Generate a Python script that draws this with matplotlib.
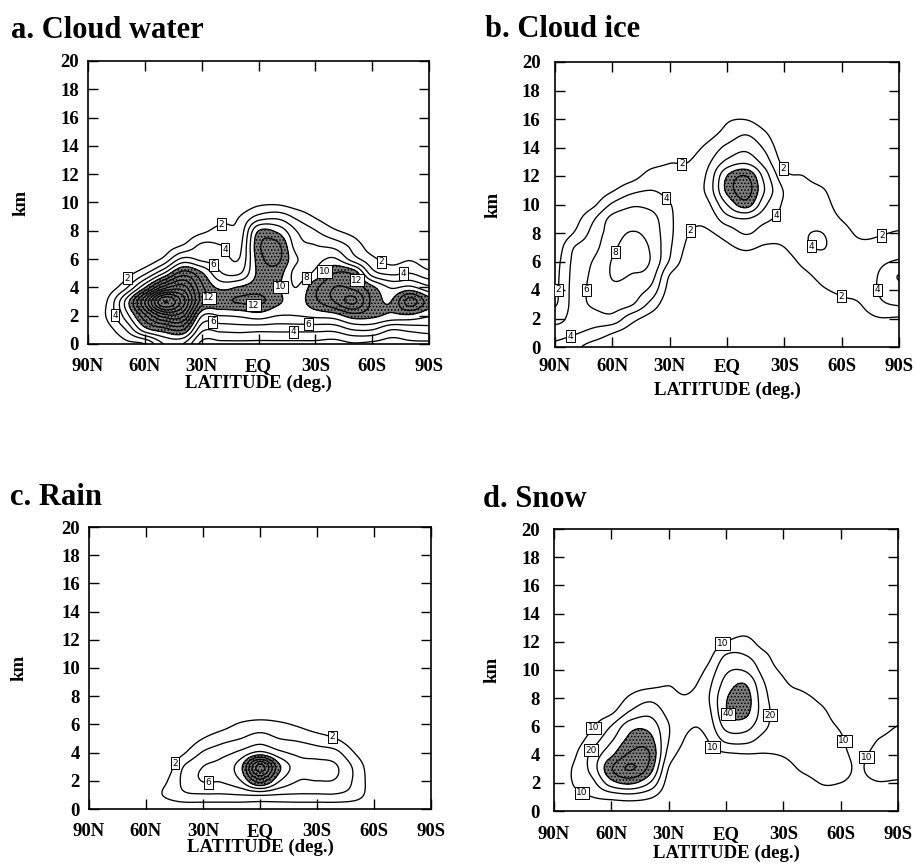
import numpy as np
import matplotlib
matplotlib.use("Agg")
import matplotlib.pyplot as plt

plt.rcParams['font.family'] = ['Liberation Serif', 'DejaVu Serif']
plt.rcParams['font.weight'] = 'bold'
plt.rcParams['axes.labelweight'] = 'bold'
plt.rcParams['hatch.color'] = 'black'
plt.rcParams['hatch.linewidth'] = 0.7

# ---------------- data ----------------
latitudes = [90, 80, 70, 60, 50, 40, 30, 20, 10, 0,
             -10, -20, -30, -40, -50, -60, -70, -80, -90]
heights_km = list(range(0, 21))
lat_tick_values = [90, 60, 30, 0, -30, -60, -90]
lat_tick_labels = ['90N', '60N', '30N', 'EQ', '30S', '60S', '90S']
km_ticks = [0, 2, 4, 6, 8, 10, 12, 14, 16, 18, 20]

# each inner list: one latitude column, values at 0, 1, 2, ... km
cloud_water = [
    [0, 0.3, 0.5, 0.4, 0.2],
    [0.3, 1.2, 2.2, 2.0, 0.8, 0.2],
    [1.5, 4, 7, 8.5, 3.6, 1.2, 0.2],
    [2, 9, 13.5, 18, 9.8, 3.6, 0.5],
    [6, 11, 19, 28, 17, 8, 2.5, 0.8],
    [6, 12, 18.5, 23, 19, 13, 6.5, 2, 0.5],
    [1.5, 4.5, 8.2, 13, 12.5, 10.3, 5.5, 4.3, 1.5, 0.3],
    [1.5, 4.5, 8, 11.8, 9.5, 6.2, 5, 4, 2.7, 1.2, 0.2],
    [1.5, 4.7, 8.3, 12.2, 10.2, 5.8, 4.1, 3.4, 2.7, 2.0, 0.4],
    [1.5, 4.5, 9, 12.5, 11, 10.5, 11, 11.5, 10, 4.6, 1.4],
    [1.5, 4.5, 8, 10.5, 10.3, 11, 12.5, 12.5, 9.5, 5.3, 1.5],
    [1.5, 4.5, 8, 9, 8, 7.3, 8.2, 7, 6, 3.5, 0.8],
    [1.5, 4.5, 8.5, 11.5, 11.5, 8.5, 7.3, 6, 4.1, 1.8, 0.3],
    [1.2, 4.5, 9, 14, 14, 12, 8.3, 5.2, 2.3, 0.5],
    [1.8, 6, 11, 16.5, 13.5, 11.5, 5, 3.2, 1.2],
    [1.5, 6, 10.5, 11.5, 10.5, 5, 2.5, 0.8],
    [1, 4, 9.5, 10, 7.8, 3.6, 1.2, 0.3],
    [1.5, 4.5, 9.5, 15, 8.5, 4, 1.8, 0.3],
    [1.5, 5, 8.2, 11, 6.5, 2.6, 0.8],
]

cloud_ice = [
    [3.5, 4.6, 3.3, 1.8, 1.6, 1.5, 1.3, 0.8, 0.3],
    [2.5, 4.2, 4.6, 4.8, 4.8, 4.7, 4.5, 4.0, 2.1, 1.2, 0.5],
    [1.2, 3.4, 5.0, 6.3, 6.5, 6.4, 6.1, 5.3, 4.7, 3.7, 1.6, 0.5],
    [0.5, 2.1, 5.3, 6.8, 7.6, 8.1, 8.1, 7.6, 7.0, 6.6, 4.3, 1.8, 0.5],
    [0.2, 1.0, 2.8, 6.2, 7.0, 7.9, 8.5, 8.6, 8.1, 7.0, 5.7, 3.4, 1.2, 0.2],
    [0, 0.3, 1.2, 3.4, 5.5, 7.0, 7.9, 7.8, 7.3, 6.8, 5.4, 4.0, 2.7, 1.3, 0.3],
    [0, 0, 0.2, 0.6, 1.2, 1.9, 3.8, 4.3, 4.5, 4.4, 4.1, 3.4, 2.6, 1.9, 0.8, 0.2],
    [0, 0, 0, 0, 0, 0.4, 0.9, 1.5, 2.0, 2.6, 2.9, 3.0, 2.8, 2.0, 1.2, 0.4],
    [0, 0, 0, 0, 0, 0, 0.6, 1.2, 1.8, 2.6, 3.6, 4.6, 4.4, 3.6, 2.5, 1.2, 0.3],
    [0, 0, 0, 0, 0, 0.8, 1.2, 1.7, 2.8, 5.2, 8.0, 10.5, 10.0, 6.5, 4.5, 2.7, 1.7, 0.4],
    [0, 0, 0, 0, 0, 0.6, 1.3, 2.3, 4.2, 6.0, 11.0, 13.0, 12.0, 7.5, 5.5, 3.8, 1.9, 0.3],
    [0, 0, 0, 0, 0, 0.3, 1.0, 1.8, 3.0, 4.5, 6.3, 7.8, 7.0, 5.0, 3.6, 2.2, 0.8],
    [0, 0, 0, 0, 0, 0.3, 1.0, 2.0, 2.7, 3.4, 3.7, 3.8, 2.6, 1.3, 0.5],
    [0, 0, 0, 0.3, 0.8, 1.5, 2.5, 3.6, 3.8, 3.3, 3.0, 2.7, 2.0, 0.8],
    [0, 0, 0.3, 1.0, 1.8, 2.5, 3.2, 4.1, 4.0, 3.2, 2.8, 2.2, 1.0, 0.3],
    [0, 0.5, 0.9, 1.6, 2.3, 2.8, 3.0, 3.0, 2.8, 1.9, 1.0, 0.4],
    [0.5, 0.8, 1.3, 2.0, 2.6, 2.8, 2.8, 2.5, 1.6, 0.8, 0.2],
    [0.5, 1.0, 1.9, 3.6, 4.2, 4.2, 3.6, 2.7, 1.8, 0.8, 0.2],
    [0.5, 0.8, 1.8, 4.2, 5.2, 6.1, 4.2, 3.2, 2.2, 1.0, 0.3],
]

rain = [
    [0], [0], [0],
    [0.2, 0.8, 0.6, 0.2],
    [0.5, 2.2, 1.7, 0.6],
    [0.6, 3.6, 4.5, 4.1, 1.8, 0.5],
    [0.6, 3.8, 6.1, 6.0, 4.2, 2.0, 0.5],
    [0.6, 3.8, 6.2, 6.8, 5.3, 3.2, 1.2],
    [0.6, 4.0, 8.0, 9.5, 6.5, 4.0, 2.3, 0.3],
    [0.7, 4.2, 13, 19, 8.5, 5.0, 2.8, 0.5],
    [0.6, 3.9, 8.2, 10.5, 6.5, 4.0, 2.4, 0.3],
    [0.6, 3.8, 6.0, 7.0, 5.5, 3.6, 1.7],
    [0.6, 3.8, 6.0, 6.8, 5.0, 2.9, 0.8],
    [0.6, 3.8, 5.8, 6.2, 4.5, 2.0, 0.4],
    [0.5, 3.0, 3.6, 3.5, 1.9, 0.5],
    [0.2, 0.8, 0.8, 0.5],
    [0], [0], [0],
]

snow = [
    [3, 5, 6, 6, 4.5, 3, 1.5, 0.5],
    [5, 8, 10.2, 10.6, 8, 5, 2.5, 1],
    [6, 10, 17, 24, 23, 15, 9, 5, 2, 0.5],
    [3, 13, 36, 49, 38, 29, 20.5, 8.5, 3, 0.5],
    [2, 15, 42, 61, 52, 43.5, 36.5, 21.5, 12, 5, 1],
    [3, 11.5, 30, 46, 50, 44, 36.5, 27, 17.5, 7, 1.5],
    [2, 4, 6, 9.5, 16, 20, 20.5, 17, 13, 9.5, 4, 1],
    [1, 2, 3, 4, 6, 8.5, 11, 12, 11, 7, 3, 1],
    [1, 2, 3.5, 5, 7, 9.5, 13, 16, 18, 16, 11.5, 6, 2, 0.5],
    [1, 2, 3.5, 5.5, 8.5, 22, 33, 39, 39, 34, 28, 21, 10, 2],
    [1, 2, 4, 6.5, 9.5, 23, 34, 43, 45, 40, 29, 20.5, 13.5, 5],
    [1, 2, 4, 6.5, 9.5, 16, 22, 24, 23, 20.5, 16, 12.5, 5, 0.5],
    [1, 2, 4, 7, 10.5, 13, 14, 14, 13, 11.5, 8, 3, 0.5],
    [1.5, 3.5, 7, 11, 13, 13.5, 13.5, 13, 12, 7.5, 3, 0.5],
    [3, 7, 10.3, 12.5, 13, 13, 12.5, 11.5, 8, 3, 0.5],
    [4, 7, 10, 11.5, 11.5, 11, 9, 5.5, 2.5, 0.5],
    [3, 5, 8.5, 9.5, 8.5, 5, 3, 1.5, 0.5],
    [4, 7, 9.7, 13, 13, 10.5, 6, 3, 1],
    [5, 8, 9.3, 13, 14, 13, 10.2, 5, 2],
]

# contour labels: (latitude, km, level)
cloud_water_labels = [(69, 4.6, 2), (19.4, 8.4, 2), (13.8, 7.0, 4), (23.8, 5.6, 6),
                      (24, 3.3, 12), (2.7, 2.75, 12), (-11.4, 4.05, 10), (-26.3, 4.5, 8),
                      (-36, 5.0, 10), (-51.9, 4.5, 12), (-64.2, 5.6, 2), (-76.8, 4.9, 4),
                      (75.7, 2.05, 4), (23.8, 1.7, 6), (-26.3, 1.5, 6), (-18.4, 0.87, 4)]
cloud_ice_labels = [(23.7, 13.0, 2), (-30.4, 12.6, 2), (31.6, 10.5, 4), (-26.5, 9.15, 4),
                    (18.8, 8.15, 2), (57.8, 6.6, 8), (-43.4, 7.0, 4), (-81, 7.8, 2),
                    (71.7, 4.0, 6), (85.6, 4.0, 2), (-60, 3.65, 2), (-78.3, 4.0, 4),
                    (82, 0.8, 4)]
rain_labels = [(44.7, 3.24, 2), (-37.7, 5.0, 2), (27.2, 2.2, 6)]
snow_labels = [(2.3, 12.0, 10), (-1.2, 6.9, 40), (-22.1, 6.8, 20), (-59.7, 4.9, 10),
               (-72.7, 3.85, 10), (6.6, 4.6, 10), (69.4, 5.9, 10), (69.4, 4.2, 20),
               (76.4, 1.0, 10)]


# ---------------- helpers ----------------
def to_grid(columns):
    z = np.zeros((len(heights_km), len(latitudes)))
    for j, col in enumerate(columns):
        z[:len(col), j] = col
    return z


def keys_kernel(t):
    a = -0.5
    t = np.abs(t)
    return np.where(t <= 1, (a + 2) * t**3 - (a + 3) * t**2 + 1,
                    np.where(t < 2, a * t**3 - 5 * a * t**2 + 8 * a * t - 4 * a, 0.0))


def cubic_matrix(n, m):
    u = np.linspace(0, n - 1, m)
    w = np.zeros((m, n))
    i0 = np.floor(u).astype(int)
    rows = np.arange(m)
    for k in range(-1, 3):
        idx = i0 + k
        wk = keys_kernel(u - idx)
        np.add.at(w, (rows, np.clip(idx, 0, n - 1)), wk)
    return w


lat_fine = np.linspace(latitudes[0], latitudes[-1], 181)
km_fine = np.linspace(heights_km[0], heights_km[-1], 201)
W_km = cubic_matrix(len(heights_km), len(km_fine))
W_lat = cubic_matrix(len(latitudes), len(lat_fine))

W, H = 915, 867
fig = plt.figure(figsize=(W / 100, H / 100), dpi=100)

panels = [
    dict(rect=(88, 61, 429, 344), title='a. Cloud water', tpos=(11, 38.5),
         data=cloud_water, levels=np.arange(2, 31, 2), shade=10,
         labels=cloud_water_labels, xpad=10, ypad=6.5, xlp=0, ylx=-0.173),
    dict(rect=(555, 62, 899, 347), title='b. Cloud ice', tpos=(485, 37),
         data=cloud_ice, levels=np.arange(2, 15, 2), shade=10,
         labels=cloud_ice_labels, xpad=8, ypad=10.5, xlp=5, ylx=-0.155),
    dict(rect=(89, 527, 431, 809), title='c. Rain', tpos=(10, 505),
         data=rain, levels=np.arange(2, 25, 2), shade=10,
         labels=rain_labels, xpad=10, ypad=6.5, xlp=-1, ylx=-0.180),
    dict(rect=(554, 529, 898, 811), title='d. Snow', tpos=(483, 507),
         data=snow, levels=np.arange(10, 71, 10), shade=40,
         labels=snow_labels, xpad=10.5, ypad=10, xlp=1.5, ylx=-0.155),
]

for p in panels:
    l, t, r, b = p['rect']
    ax = fig.add_axes([l / W, 1 - b / H, (r - l) / W, (b - t) / H])
    z = W_km @ to_grid(p['data']) @ W_lat.T
    ax.set_xlim(90, -90)
    ax.set_ylim(0, 20)
    ax.contourf(lat_fine, km_fine, z, levels=[p['shade'], 1e6],
                colors=['#7c7c7c'], hatches=['.....'], zorder=1)
    ax.contour(lat_fine, km_fine, z, levels=p['levels'], colors='black',
               linewidths=0.95, zorder=2)
    for (la, km, lv) in p['labels']:
        cs_one = ax.contour(lat_fine, km_fine, z, levels=[lv], colors='black',
                            linewidths=0, zorder=2)
        txts = ax.clabel(cs_one, manual=[(la, km)], inline=False,
                         fontsize=6.5, fmt='%d')
        for tx in txts:
            tx.set_rotation(0)
            tx.set_fontfamily('DejaVu Sans')
            tx.set_fontweight('normal')
            tx.set_zorder(5)
            tx.set_bbox(dict(boxstyle='square,pad=0.18', fc='white', ec='black', lw=0.7))

    ax.set_xticks(lat_tick_values)
    ax.set_xticklabels(lat_tick_labels)
    ax.set_yticks(km_ticks)
    ax.tick_params(axis='both', direction='in', top=True, right=True,
                   length=7, width=1.0, labelsize=13.5)
    ax.tick_params(axis='x', pad=p['xpad'])
    ax.tick_params(axis='y', pad=p['ypad'])
    for s in ax.spines.values():
        s.set_linewidth(1.2)
    ax.set_xlabel('LATITUDE (deg.)', fontsize=13.5, fontweight='bold', labelpad=p['xlp'])
    ax.set_ylabel('km', fontsize=13.5, fontweight='bold')
    ax.yaxis.set_label_coords(p['ylx'], 0.5)
    fig.text(p['tpos'][0] / W, 1 - p['tpos'][1] / H, p['title'],
             fontsize=22, fontweight='bold', ha='left', va='baseline')

fig.savefig('out.png', dpi=100)
